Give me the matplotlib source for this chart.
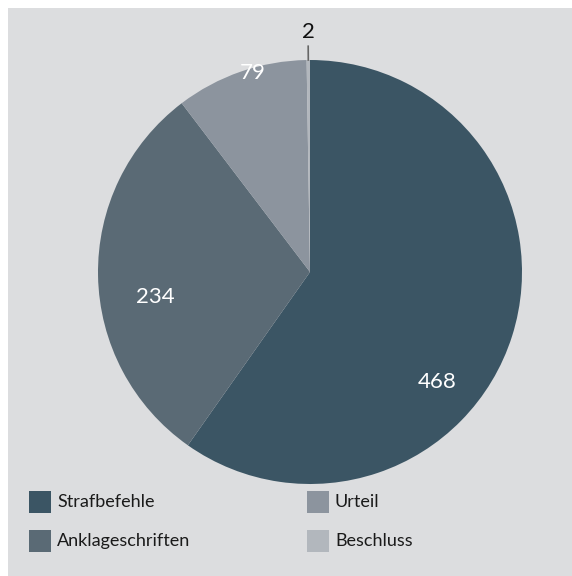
import matplotlib
matplotlib.use("Agg")
import matplotlib.pyplot as plt
from matplotlib.patches import Rectangle
import numpy as np

categories = ["Strafbefehle", "Anklageschriften", "Urteil", "Beschluss"]
values = [468, 234, 79, 2]
colors = ["#3b5564", "#5a6a75", "#8c949e", "#b2b7bd"]
label_colors = ["white", "white", "white", "#111111"]

W, H = 572, 576
fig = plt.figure(figsize=(W / 100, H / 100), dpi=100)
fig.patch.set_facecolor("white")
fig.add_artist(Rectangle((8 / W, 0), 1 - 8 / W, 1 - 8 / H, transform=fig.transFigure,
                         facecolor="#dcdddf", edgecolor="none", zorder=0))

cx, cy, r = 310, 272, 212
ax = fig.add_axes([(cx - r) / W, (H - cy - r) / H, 2 * r / W, 2 * r / H])
ax.set_facecolor("none")
wedges, _ = ax.pie(values, colors=colors, startangle=90, counterclock=False,
                   radius=1.0, wedgeprops=dict(linewidth=0))
ax.set_xlim(-1, 1)
ax.set_ylim(-1, 1)
ax.set_aspect("equal")
ax.axis("off")

font = "Lato"
label_pos = [(0.60, -0.52), (-0.73, -0.12), (-0.27, 0.94)]
for i in range(3):
    ax.text(label_pos[i][0], label_pos[i][1], str(values[i]), color=label_colors[i],
            ha="center", va="center", fontsize=16, family=font)

# small slice: leader line and outside label
w = wedges[3]
mid = np.deg2rad((w.theta1 + w.theta2) / 2)
x0, y0 = np.cos(mid), np.sin(mid)
ax.plot([x0 * 1.0, x0 * 1.065], [y0 * 1.0, y0 * 1.065], color="#666666", lw=1.2,
        clip_on=False)
ax.text(x0 * 1.13, y0 * 1.13, str(values[3]), color="#111111", ha="center",
        va="center", fontsize=16, family=font)

# legend
leg_x = [29, 29, 307, 307]
leg_y = [502, 541, 502, 541]
sq = 22
for i, cat in enumerate(categories):
    x, y = leg_x[i], leg_y[i]
    fig.add_artist(Rectangle((x / W, (H - y - sq / 2) / H), sq / W, sq / H,
                             transform=fig.transFigure, facecolor=colors[i],
                             edgecolor="none"))
    fig.text((x + 28) / W, (H - y) / H, cat, ha="left", va="center",
             fontsize=13, family=font, color="#1a1a1a")

fig.savefig("out.png", dpi=100, facecolor=fig.get_facecolor())
